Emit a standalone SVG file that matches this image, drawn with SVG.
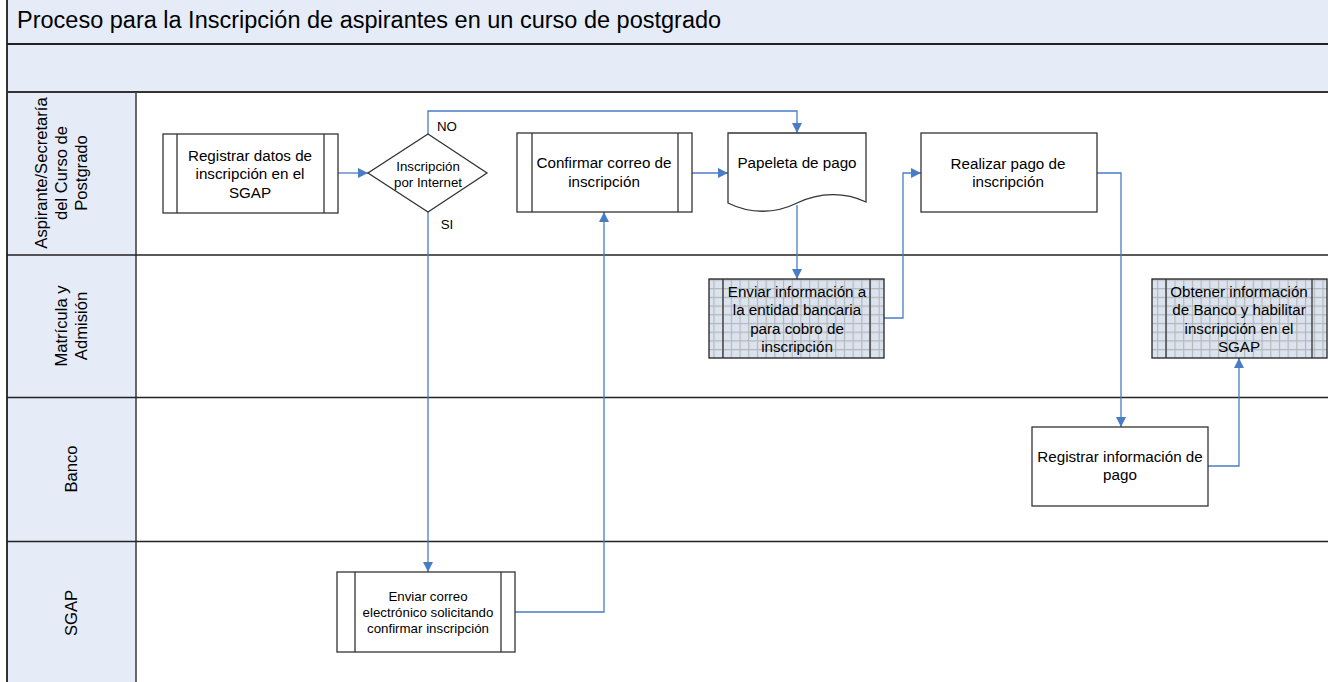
<svg xmlns="http://www.w3.org/2000/svg" width="1328" height="682" viewBox="0 0 1328 682">
<style>
text{font-family:"Liberation Sans",Arial,sans-serif;fill:#000}
.t15{font-size:15.2px;text-anchor:middle}
.t13{font-size:13.3px;text-anchor:middle}
.th{font-size:16.6px;text-anchor:middle}
.box{fill:#fff;stroke:#333;stroke-width:1.3}
.gbox{fill:url(#grid);stroke:#222;stroke-width:1.3}
.in{stroke:#333;stroke-width:1.3;fill:none}
.conn{fill:none;stroke:#4A7CC6;stroke-width:1.3;marker-end:url(#arr)}
.hdr{fill:#E5ECF7}
.lane{stroke:#222;stroke-width:1.6}
</style>
<defs>
<marker id="arr" viewBox="0 0 10 10" refX="10" refY="5" markerWidth="10" markerHeight="10" markerUnits="userSpaceOnUse" orient="auto">
<path d="M0,0 L10,5 L0,10 z" fill="#4A7CC6"/>
</marker>
<pattern id="grid" patternUnits="userSpaceOnUse" x="0" y="1" width="8.7" height="8.7">
<rect width="8.7" height="8.7" fill="#DBE3EF"/>
<path d="M0,0.5 H8.7 M0.5,0 V8.7" stroke="#B4B6B8" stroke-width="1.2"/>
</pattern>
</defs>

<g id="frame">
<rect class="hdr" x="7" y="0" width="1321" height="92"/>
<rect class="hdr" x="7" y="92" width="129" height="590"/>
<rect x="136" y="92" width="1192" height="590" fill="#fff"/>
<line x1="7" y1="0" x2="7" y2="682" stroke="#333" stroke-width="2"/>
<line x1="7" y1="44" x2="1328" y2="44" stroke="#222" stroke-width="2"/>
<line x1="7" y1="92" x2="1328" y2="92" stroke="#333" stroke-width="2.2"/>
<line x1="136" y1="92" x2="136" y2="682" stroke="#444" stroke-width="1.6"/>
<line class="lane" x1="7" y1="255" x2="1328" y2="255" stroke-width="2.2" stroke="#333"/>
<line class="lane" x1="7" y1="397.5" x2="1328" y2="397.5"/>
<line class="lane" x1="7" y1="541.5" x2="1328" y2="541.5"/>
<text x="17" y="28" font-size="23.5">Proceso para la Inscripción de aspirantes en un curso de postgrado</text>
</g>

<g id="lane-aspirante">
<text class="th" transform="rotate(-90 41 173)" x="41" y="179">Aspirante/Secretaría</text>
<text class="th" transform="rotate(-90 61 173)" x="61" y="179">del Curso de</text>
<text class="th" transform="rotate(-90 81 173)" x="81" y="179">Postgrado</text>
</g>
<g id="lane-matricula">
<text class="th" transform="rotate(-90 61 326)" x="61" y="332">Matrícula y</text>
<text class="th" transform="rotate(-90 81 326)" x="81" y="332">Admisión</text>
</g>
<g id="lane-banco">
<text class="th" transform="rotate(-90 71 469)" x="71" y="475">Banco</text>
</g>
<g id="lane-sgap">
<text class="th" transform="rotate(-90 71 613)" x="71" y="619">SGAP</text>
</g>

<g id="connectors">
<path class="conn" d="M338,173 H368"/>
<path class="conn" d="M428,134 V111 H797 V133"/>
<path class="conn" d="M428,212 V572"/>
<path class="conn" d="M515,612 H604 V212"/>
<path class="conn" d="M692,173 H728"/>
<path class="conn" d="M797,205 V279"/>
<path class="conn" d="M884,318 H903 V173 H921"/>
<path class="conn" d="M1097,173 H1121 V427"/>
<path class="conn" d="M1208,466 H1239 V358"/>
<text x="447" y="131" font-size="13.3" text-anchor="middle">NO</text>
<text x="447" y="229" font-size="13.3" text-anchor="middle">SI</text>
</g>

<g id="registrar-datos">
<rect class="box" x="163" y="134" width="175" height="79"/>
<path class="in" d="M177,134 V213 M324,134 V213"/>
<text class="t15" x="250" y="161">Registrar datos de</text>
<text class="t15" x="250" y="179">inscripción en el</text>
<text class="t15" x="250" y="198">SGAP</text>
</g>

<g id="decision-internet">
<path class="box" d="M428,134 L487,173 L428,212 L368,173 Z"/>
<text class="t13" x="428" y="171">Inscripción</text>
<text class="t13" x="428" y="187">por Internet</text>
</g>

<g id="confirmar-correo">
<rect class="box" x="517" y="133" width="175" height="79"/>
<path class="in" d="M532,133 V212 M678,133 V212"/>
<text class="t15" x="604" y="168">Confirmar correo de</text>
<text class="t15" x="604" y="187">inscripción</text>
</g>

<g id="papeleta">
<path class="box" d="M728,133 H866 V202 C845,192 820,192 797,203 C775,214 750,214 728,203 Z"/>
<text class="t15" x="797" y="168">Papeleta de pago</text>
</g>

<g id="realizar-pago">
<rect class="box" x="921" y="133" width="176" height="79"/>
<text class="t15" x="1008" y="169">Realizar pago de</text>
<text class="t15" x="1008" y="187">inscripción</text>
</g>

<g id="enviar-info-banco">
<rect class="gbox" x="709" y="279" width="175" height="79"/>
<path class="in" d="M723,279 V358 M870,279 V358"/>
<text class="t15" x="797" y="297">Enviar información a</text>
<text class="t15" x="797" y="315">la entidad bancaria</text>
<text class="t15" x="797" y="334">para cobro de</text>
<text class="t15" x="797" y="352">inscripción</text>
</g>

<g id="obtener-info">
<rect class="gbox" x="1152" y="279" width="175" height="79"/>
<path class="in" d="M1166,279 V358 M1312,279 V358"/>
<text class="t15" x="1239" y="297">Obtener información</text>
<text class="t15" x="1239" y="315">de Banco y habilitar</text>
<text class="t15" x="1239" y="334">inscripción en el</text>
<text class="t15" x="1239" y="352">SGAP</text>
</g>

<g id="registrar-pago">
<rect class="box" x="1032" y="427" width="176" height="79"/>
<text class="t15" x="1120" y="462">Registrar información de</text>
<text class="t15" x="1120" y="480">pago</text>
</g>

<g id="enviar-correo">
<rect class="box" x="337" y="572" width="178" height="80"/>
<path class="in" d="M355,572 V652 M501,572 V652"/>
<text class="t13" x="428" y="601">Enviar correo</text>
<text class="t13" x="428" y="617">electrónico solicitando</text>
<text class="t13" x="428" y="633">confirmar inscripción</text>
</g>
</svg>
